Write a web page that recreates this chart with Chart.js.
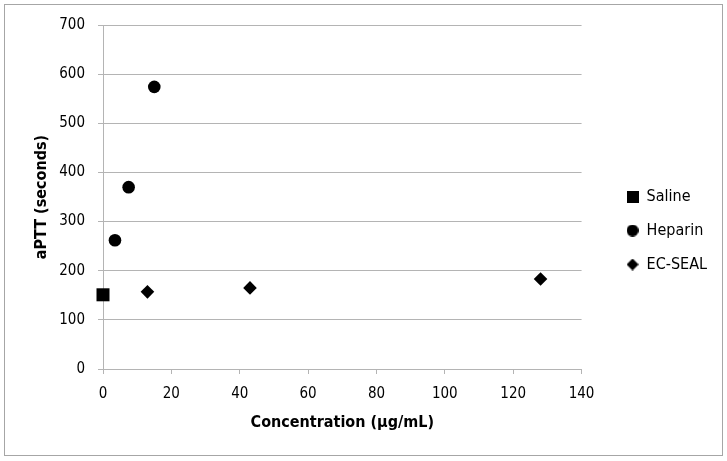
<!DOCTYPE html>
<html lang="en">

<head>
    <meta charset="UTF-8">
    <title>aPTT vs concentration</title>
    <style>
        body { margin: 0; background: #fff; }
        .wrap { width: 727px; height: 461px; }
    </style>
    <script src="https://cdn.jsdelivr.net/npm/chart.js"></script>
</head>

<body>
    <div class="wrap">
        <canvas id="myChart"></canvas>
    </div>

    <script>
        // values: [concentration, aPTT]
        const salineX = [0];
        const salineY = [151];
        const heparinX = [3.5, 7.5, 15];
        const heparinY = [262, 370, 574];
        const ecsealX = [13, 43, 128];
        const ecsealY = [157, 165, 183];

        const xTicks = [0, 20, 40, 60, 80, 100, 120, 140];
        const yTicks = [0, 100, 200, 300, 400, 500, 600, 700];

        const FONT = "'Liberation Sans Narrow', 'DejaVu Sans Condensed', Lato, sans-serif";
        const GRID = '#b4b4b4';

        const pts = (xs, ys) => xs.map((x, i) => ({ x: x, y: ys[i] }));

        // small legend icons, all the same size like in excel
        function icon(shape) {
            const s = 12;
            const cv = document.createElement('canvas');
            cv.width = s; cv.height = s;
            const c = cv.getContext('2d');
            c.fillStyle = '#000';
            c.beginPath();
            if (shape === 'rect') {
                c.rect(0, 0, s, s);
            } else if (shape === 'circle') {
                c.arc(s / 2, s / 2, s / 2, 0, Math.PI * 2);
            } else {
                c.moveTo(s / 2, 0); c.lineTo(s, s / 2); c.lineTo(s / 2, s); c.lineTo(0, s / 2);
                c.closePath();
            }
            c.fill();
            return cv;
        }
        const icons = [icon('rect'), icon('circle'), icon('diamond')];

        // grey frame round the whole chart, legend pushed a bit right
        const frame = {
            id: 'frame',
            afterLayout(chart) {
                const lg = chart.legend;
                lg.left += 27; lg.right += 27;
                lg.top += 2; lg.bottom += 2;
            },
            beforeDraw(chart) {
                const c = chart.ctx;
                c.save();
                c.strokeStyle = '#a6a6a6';
                c.lineWidth = 1;
                c.strokeRect(4.5, 4.5, 718, 451);
                c.restore();
            }
        };

        Chart.defaults.font.family = FONT;
        Chart.defaults.color = '#000';

        new Chart(document.getElementById('myChart'), {
            type: 'scatter',
            data: {
                datasets: [
                    { label: 'Saline', data: pts(salineX, salineY), pointStyle: 'rect', pointRadius: 9.2, borderWidth: 0, backgroundColor: '#000', clip: false },
                    { label: 'Heparin', data: pts(heparinX, heparinY), pointStyle: 'circle', pointRadius: 6.3, borderWidth: 0, backgroundColor: '#000', clip: false },
                    { label: 'EC-SEAL', data: pts(ecsealX, ecsealY), pointStyle: 'rectRot', pointRadius: 6.8, borderWidth: 0, backgroundColor: '#000', clip: false }
                ]
            },
            options: {
                responsive: true,
                maintainAspectRatio: false,
                animation: false,
                layout: {
                    padding: { left: 32, right: 37, top: 25, bottom: 29 }
                },
                plugins: {
                    tooltip: { enabled: false },
                    legend: {
                        position: 'right',
                        labels: {
                            usePointStyle: true,
                            boxWidth: 12,
                            boxHeight: 12,
                            padding: 18,
                            font: { size: 16 },
                            color: '#000',
                            generateLabels: chart => chart.data.datasets.map((d, i) => ({
                                text: d.label,
                                pointStyle: icons[i],
                                fillStyle: '#000',
                                strokeStyle: '#000',
                                lineWidth: 0,
                                datasetIndex: i,
                                hidden: false
                            }))
                        }
                    }
                },
                scales: {
                    x: {
                        type: 'linear',
                        min: 0,
                        max: 140,
                        afterFit: s => { s.height = 63; },
                        afterBuildTicks: s => { s.ticks = xTicks.map(v => ({ value: v })); },
                        ticks: { padding: 11, font: { size: 15 }, color: '#000' },
                        grid: { drawOnChartArea: false, drawTicks: true, tickLength: 5, color: GRID },
                        border: { display: true, color: GRID },
                        title: { display: true, text: 'Concentration (μg/mL)', font: { size: 16, weight: 'bold' }, padding: 0, color: '#000' }
                    },
                    y: {
                        min: 0,
                        max: 700,
                        afterFit: s => { s.width = 71; },
                        afterBuildTicks: s => { s.ticks = yTicks.map(v => ({ value: v })); },
                        ticks: { padding: 13, font: { size: 15 }, color: '#000' },
                        grid: { drawTicks: true, tickLength: 5, color: GRID },
                        border: { display: true, color: GRID },
                        title: { display: true, text: 'aPTT (seconds)', font: { size: 16, weight: 'bold' }, padding: 0, color: '#000' }
                    }
                }
            },
            plugins: [frame]
        });
    </script>
</body>

</html>
